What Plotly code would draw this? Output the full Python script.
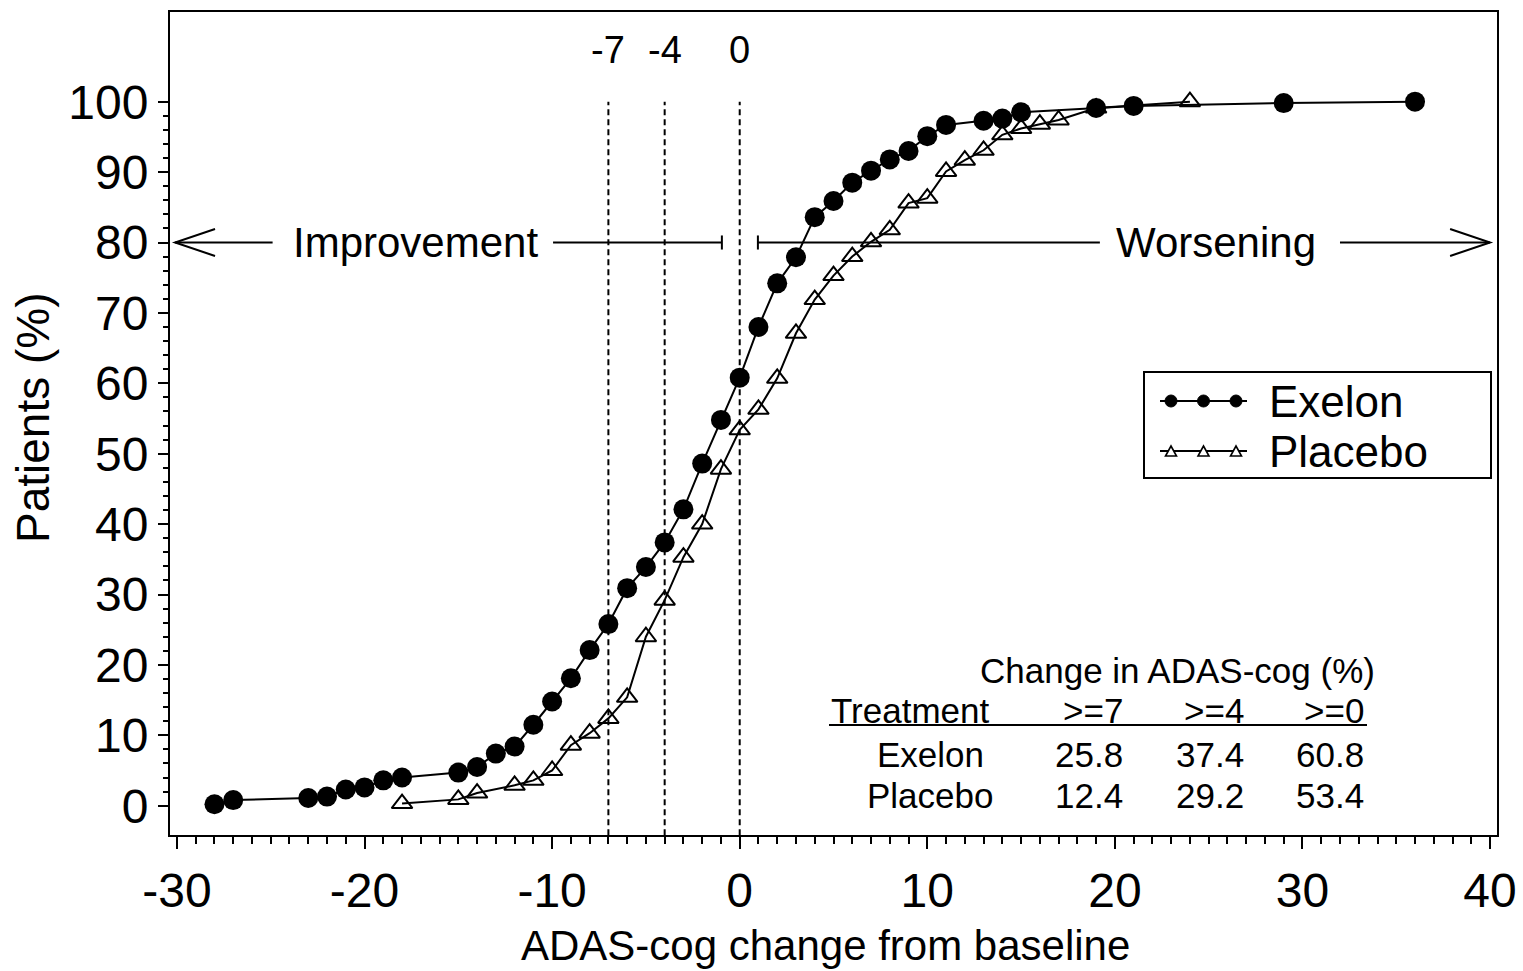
import plotly.graph_objects as go

# ---------------- data ----------------
exelon_x = [-28, -27, -23, -22, -21, -20, -19, -18, -15, -14, -13, -12, -11, -10, -9, -8, -7, -6, -5, -4, -3, -2, -1,
            0, 1, 2, 3, 4, 5, 6, 7, 8, 9, 10, 11, 13, 14, 15, 19, 21, 29, 36]
exelon_y = [0.2, 0.8, 1.1, 1.3, 2.3, 2.6, 3.6, 4.0, 4.7, 5.5, 7.4, 8.4, 11.5, 14.8, 18.1, 22.1, 25.8, 30.9, 33.9, 37.4,
            42.1, 48.6, 54.8, 60.8, 68.0, 74.2, 77.9, 83.6, 85.9, 88.5, 90.2, 91.8, 93.0, 95.1, 96.7, 97.3, 97.6, 98.5,
            99.1, 99.4, 99.8, 100.0]

placebo_x = [-18, -15, -14, -12, -11, -10, -9, -8, -7, -6, -5, -4, -3, -2, -1,
             0, 1, 2, 3, 4, 5, 6, 7, 8, 9, 10, 11, 12, 13, 14, 15, 16, 17, 19, 24]
placebo_y = [0.3, 0.9, 1.8, 2.9, 3.6, 5.0, 8.6, 10.3, 12.4, 15.4, 24.0, 29.2, 35.3, 40.0, 47.8,
             53.4, 56.3, 60.7, 67.1, 71.9, 75.3, 78.0, 80.1, 81.8, 85.6, 86.3, 90.1, 91.7, 93.1, 95.3, 96.2, 96.8,
             97.4, 99.1, 100.0]

ref_x = [-7, -4, 0]
ref_labels = ["-7", "-4", "0"]

x_ticks = [-30, -20, -10, 0, 10, 20, 30, 40]
y_ticks = [0, 10, 20, 30, 40, 50, 60, 70, 80, 90, 100]

table_title = "Change in ADAS-cog (%)"
table_head = "Treatment"
table_cols = [">=7", ">=4", ">=0"]
table_names = ["Exelon", "Placebo"]
table_exelon = [25.8, 37.4, 60.8]
table_placebo = [12.4, 29.2, 53.4]

FONT = "Liberation Sans, Arial, Helvetica, sans-serif"
W, H = 1523, 971
L, R, T, B = 170, 1497, 12, 835   # plot box in pixels


def PX(px):
    return (px - L) / (R - L)


def PY(py):
    return (B - py) / (B - T)


fig = go.Figure()

fig.add_trace(go.Scatter(
    x=placebo_x, y=placebo_y, mode="lines+markers", name="Placebo",
    line=dict(color="black", width=2),
    marker=dict(symbol="triangle-up-open", size=18, color="black", line=dict(width=2)),
    showlegend=False))
fig.add_trace(go.Scatter(
    x=exelon_x, y=exelon_y, mode="lines+markers", name="Exelon",
    line=dict(color="black", width=2),
    marker=dict(symbol="circle", size=20, color="black"),
    showlegend=False))

shapes = []
annotations = []

# reference dashed lines and their labels
for xv, lab in zip(ref_x, ref_labels):
    shapes.append(dict(type="line", xref="x", yref="y", x0=xv, x1=xv, y0=-4.2, y1=100,
                       line=dict(color="black", width=2, dash="6px,4px"), layer="below"))
    annotations.append(dict(x=xv, y=PY(50), xref="x", yref="paper", text=lab, showarrow=False,
                            font=dict(size=38, color="black", family=FONT), xanchor="center", yanchor="middle"))

# Improvement / Worsening arrows (y = 80)
ay = 80
ln = dict(color="black", width=2)
segs = [(-30.1, -24.9), (-9.95, -0.95), (0.97, 19.2), (32.0, 40.0)]
for a, b in segs:
    shapes.append(dict(type="line", xref="x", yref="y", x0=a, x1=b, y0=ay, y1=ay, line=ln))
for xb in (-0.95, 0.97):
    shapes.append(dict(type="line", xref="x", yref="y", x0=xb, x1=xb, y0=ay - 1.0, y1=ay + 1.0, line=ln))
hl, hw = 2.13, 1.92
shapes.append(dict(type="path", xref="x", yref="y", line=ln,
                   path=f"M {-30.1 + hl},{ay + hw} L {-30.1},{ay} L {-30.1 + hl},{ay - hw}"))
shapes.append(dict(type="path", xref="x", yref="y", line=ln,
                   path=f"M {40.0 - hl},{ay + hw} L {40.0},{ay} L {40.0 - hl},{ay - hw}"))
annotations.append(dict(x=-17.29, y=ay, xref="x", yref="y", text="Improvement", showarrow=False,
                        font=dict(size=42, color="black", family=FONT), xanchor="center", yanchor="middle"))
annotations.append(dict(x=25.41, y=ay, xref="x", yref="y", text="Worsening", showarrow=False,
                        font=dict(size=42, color="black", family=FONT), xanchor="center", yanchor="middle"))

# custom legend box
shapes.append(dict(type="rect", xref="paper", yref="paper", x0=PX(1144), x1=PX(1491), y0=PY(372), y1=PY(478),
                   line=dict(color="black", width=2), fillcolor="white"))
leg_y = [401, 451]
for i, yy in enumerate(leg_y):
    shapes.append(dict(type="line", xref="paper", yref="paper", x0=PX(1160), x1=PX(1247), y0=PY(yy), y1=PY(yy),
                       line=dict(color="black", width=2)))
    for cx in (1171, 1203.5, 1236):
        if i == 0:
            r = 6
            shapes.append(dict(type="circle", xref="paper", yref="paper", x0=PX(cx - r), x1=PX(cx + r),
                               y0=PY(yy - r), y1=PY(yy + r), line=dict(color="black", width=1), fillcolor="black"))
        else:
            hw2, ht = 5.5, 5
            p = (f"M {PX(cx - hw2)},{PY(yy + ht)} L {PX(cx + hw2)},{PY(yy + ht)} "
                 f"L {PX(cx)},{PY(yy - ht)} Z")
            shapes.append(dict(type="path", xref="paper", yref="paper", path=p,
                               line=dict(color="black", width=1.6), fillcolor="white"))
for name, yy in zip(table_names, leg_y):
    annotations.append(dict(x=PX(1267), y=PY(yy), xref="paper", yref="paper", text=name, showarrow=False,
                            font=dict(size=44, color="black", family=FONT), xanchor="left", yanchor="middle"))

# summary table
tf = dict(size=35, color="black", family=FONT)
annotations.append(dict(x=PX(1377), y=PY(670), xref="paper", yref="paper", text=table_title, showarrow=False,
                        font=tf, xanchor="right", yanchor="middle"))
annotations.append(dict(x=PX(829), y=PY(710), xref="paper", yref="paper", text=table_head, showarrow=False,
                        font=tf, xanchor="left", yanchor="middle"))
col_right = [1125, 1246, 1366]
for c, xr in zip(table_cols, col_right):
    annotations.append(dict(x=PX(xr), y=PY(710), xref="paper", yref="paper", text=c, showarrow=False,
                            font=tf, xanchor="right", yanchor="middle"))
shapes.append(dict(type="line", xref="paper", yref="paper", x0=PX(829), x1=PX(1367), y0=PY(725), y1=PY(725),
                   line=dict(color="black", width=2)))
row_y = [754, 795]
for name, vals, yy in zip(table_names, [table_exelon, table_placebo], row_y):
    annotations.append(dict(x=PX(930), y=PY(yy), xref="paper", yref="paper", text=name, showarrow=False,
                            font=tf, xanchor="center", yanchor="middle"))
    for v, xr in zip(vals, col_right):
        annotations.append(dict(x=PX(xr), y=PY(yy), xref="paper", yref="paper", text=f"{v:.1f}",
                                showarrow=False, font=tf, xanchor="right", yanchor="middle"))

# axis titles
annotations.append(dict(x=PX(825), y=PY(945), xref="paper", yref="paper", text="ADAS-cog change from baseline",
                        showarrow=False, font=dict(size=42, color="black", family=FONT),
                        xanchor="center", yanchor="middle"))
annotations.append(dict(x=PX(33), y=PY(418), xref="paper", yref="paper", text="Patients (%)", textangle=-90,
                        showarrow=False, font=dict(size=46, color="black", family=FONT),
                        xanchor="center", yanchor="middle"))

fig.update_layout(
    width=W, height=H,
    margin=dict(l=L, r=W - R, t=T, b=H - B, pad=0, autoexpand=False),
    paper_bgcolor="white", plot_bgcolor="white",
    font=dict(family=FONT, color="black"),
    shapes=shapes, annotations=annotations,
    showlegend=False,
)
fig.update_xaxes(range=[-30.37, 40.37], tickmode="array", tickvals=x_ticks,
                 ticktext=[str(v) for v in x_ticks], automargin=False,
                 ticks="outside", ticklen=12, tickwidth=2, tickcolor="black",
                 minor=dict(ticks="outside", ticklen=7, tickwidth=1.5, tickcolor="black", dtick=1, tick0=0,
                            showgrid=False),
                 showline=True, linewidth=2, linecolor="black", mirror=True,
                 showgrid=False, zeroline=False, tickfont=dict(size=48, family=FONT, color="black"))
fig.update_yaxes(range=[-4.16, 112.74], tickmode="array", tickvals=y_ticks,
                 ticktext=[str(v) for v in y_ticks], automargin=False,
                 ticks="outside", ticklen=10, tickwidth=2, tickcolor="black",
                 minor=dict(ticks="outside", ticklen=5, tickwidth=1.5, tickcolor="black",
                            tickmode="array", tickvals=list(range(0, 101, 2)), showgrid=False),
                 showline=True, linewidth=2, linecolor="black", mirror=True,
                 showgrid=False, zeroline=False, tickfont=dict(size=48, family=FONT, color="black"))

fig.write_html("out.html")
